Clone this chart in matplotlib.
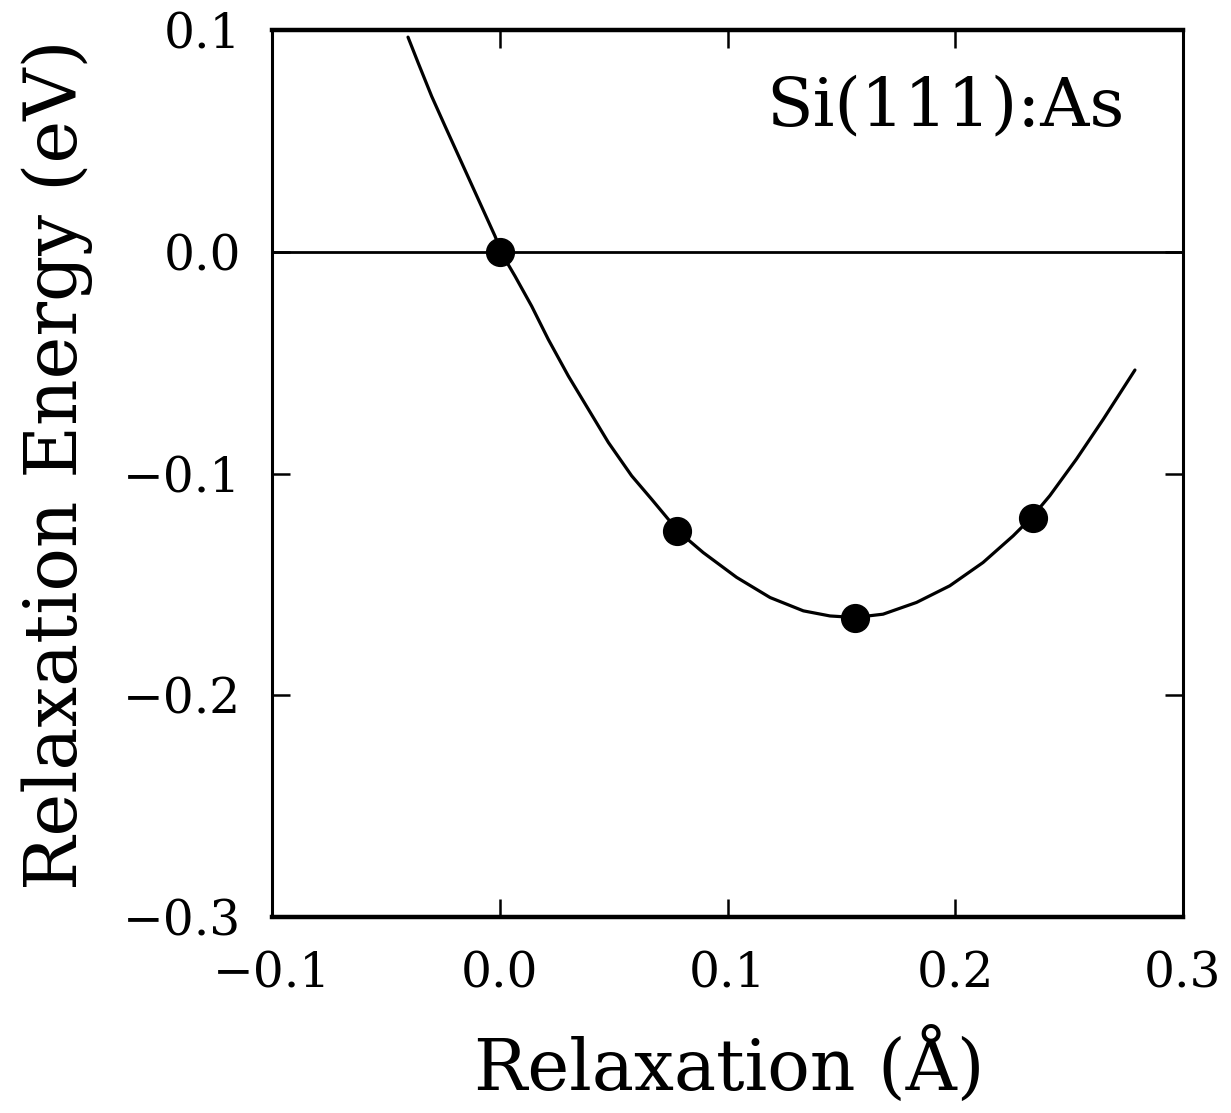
import matplotlib
matplotlib.use("Agg")
import matplotlib.pyplot as plt

# Calculated points
point_x = [0.0, 0.078, 0.156, 0.234]
point_y = [0.0, -0.126, -0.165, -0.120]

# Fitted curve
curve_x = [-0.0403, -0.0358, -0.0299, -0.0240, -0.0167, -0.0094, -0.0021, 0.0010,
           0.0067, 0.0140, 0.0213, 0.0301, 0.0389, 0.0477, 0.0579, 0.0667, 0.0740,
           0.0781, 0.0893, 0.1040, 0.1187, 0.1333, 0.1450, 0.1559, 0.1683, 0.1830,
           0.1976, 0.2122, 0.2254, 0.2335, 0.2415, 0.2532, 0.2650, 0.2789]
curve_y = [0.0968, 0.0851, 0.0701, 0.0566, 0.0401, 0.0236, 0.0071, -0.0010,
           -0.0110, -0.0245, -0.0395, -0.0560, -0.0710, -0.0860, -0.1010, -0.1116, -0.1206,
           -0.1258, -0.1356, -0.1468, -0.1559, -0.1619, -0.1642, -0.1649, -0.1634, -0.1581,
           -0.1506, -0.1401, -0.1281, -0.1198, -0.1100, -0.0935, -0.0755, -0.0533]

x_ticks = [-0.1, 0.0, 0.1, 0.2, 0.3]
x_tick_labels = ["\u22120.1", "0.0", "0.1", "0.2", "0.3"]
y_ticks = [0.1, 0.0, -0.1, -0.2, -0.3]
y_tick_labels = ["0.1", "0.0", "\u22120.1", "\u22120.2", "\u22120.3"]

FONT = ["DejaVu Serif", "DejaVu Sans"]
plt.rcParams['font.family'] = FONT

fig = plt.figure(figsize=(12.31, 11.13), dpi=100)
ax = fig.add_axes([0.221, 0.176, 0.740, 0.797])

ax.axhline(0.0, color="black", lw=2.0, zorder=1)
ax.plot(curve_x, curve_y, color="black", lw=2.3, zorder=2,
        solid_joinstyle="round", solid_capstyle="round")
ax.plot(point_x, point_y, "o", color="black", markersize=20, zorder=3)

ax.set_xlim(-0.1, 0.3)
ax.set_ylim(-0.3, 0.1)
ax.set_xticks(x_ticks)
ax.set_xticklabels(x_tick_labels)
ax.set_yticks(y_ticks)
ax.set_yticklabels(y_tick_labels)
ax.tick_params(direction="in", length=13, width=1.8, top=True, right=True,
               labelsize=35)
ax.tick_params(axis="y", pad=22)
ax.tick_params(axis="x", pad=24)

for side in ["top", "bottom"]:
    ax.spines[side].set_linewidth(3.2)
for side in ["left", "right"]:
    ax.spines[side].set_linewidth(2.2)

ax.set_xlabel("Relaxation (\u00c5)", fontsize=51, va="center")
ax.xaxis.set_label_coords(0.502, -0.168)
ax.set_ylabel("Relaxation Energy (eV)", fontsize=52, va="center")
ax.yaxis.set_label_coords(-0.236, 0.51)

ax.text(0.936, 0.913, "Si(111):As", transform=ax.transAxes, ha="right", va="center",
        fontsize=49)

fig.savefig("out.png", dpi=100)
